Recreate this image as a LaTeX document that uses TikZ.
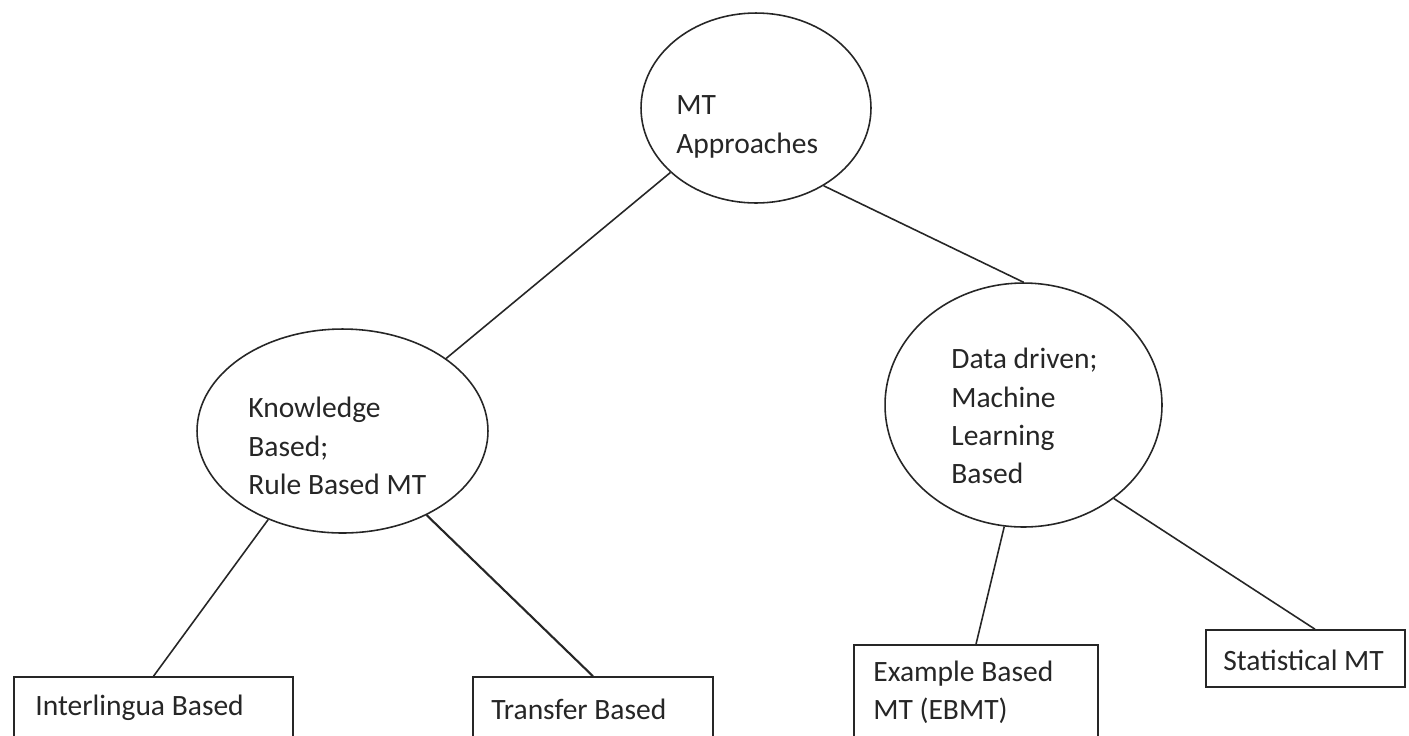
\documentclass[tikz,border=0pt]{standalone}
\usepackage{fontspec}
\setmainfont{Carlito}
\usetikzlibrary{shapes.geometric}
\begin{document}
\begin{tikzpicture}[x=0.02cm,y=-0.02cm,
  bubble/.style={draw=black!85, line width=0.9pt, ellipse, inner sep=0pt},
  box/.style={draw=black!85, line width=0.9pt, rectangle, inner sep=0pt},
  lbl/.style={font=\fontsize{16.8}{21.8}\selectfont, text=black!85, align=left, inner sep=0pt, anchor=west},
  conn/.style={draw=black!85, line width=0.9pt}]
\clip (0,0) rectangle (1409,735);
\fill[white] (0,0) rectangle (1409,735);
% ellipses
\node[bubble, minimum width=4.6cm, minimum height=3.8cm] (root) at (756,108) {};
\node[bubble, minimum width=5.82cm, minimum height=4.08cm] (kb) at (342.5,431) {};
\node[bubble, minimum width=5.54cm, minimum height=4.88cm] (dd) at (1023.5,405) {};
% boxes
\node[box, minimum width=5.58cm, minimum height=1.26cm] (inter) at (153.5,708.5) {};
\node[box, minimum width=4.8cm, minimum height=1.26cm] (trans) at (593,708.5) {};
\node[box, minimum width=4.88cm, minimum height=1.9cm] (ebmt) at (976,692.5) {};
\node[box, minimum width=3.98cm, minimum height=1.14cm] (smt) at (1305.5,658.5) {};
% texts
\node[lbl] (rootT) at (676,127) {MT\\Approaches};
\node[lbl] (kbT) at (248,446) {Knowledge\\Based;\\Rule Based MT};
\node[lbl] (ddT) at (951,416) {Data driven;\\Machine\\Learning\\Based};
\node[lbl] (interT) at (35,708) {Interlingua Based};
\node[lbl] (transT) at (491,709) {Transfer Based};
\node[lbl] (ebmtT) at (873,692.5) {Example Based\\MT (EBMT)};
\node[lbl] (smtT) at (1223,660) {Statistical MT};
% connectors
\draw[conn] (root.217.1) -- (kb.35);
\draw[conn] (root.-49.7) -- (dd.90);
\draw[conn] (kb.230.7) -- (inter.north);
\draw[conn, line width=1.2pt] (kb.-45.5) -- (trans.north);
\draw[conn] (dd.-99.6) -- (ebmt.north);
\draw[conn] (dd.-46.9) -- ([xshift=0.19cm]smt.north);
\end{tikzpicture}
\end{document}
